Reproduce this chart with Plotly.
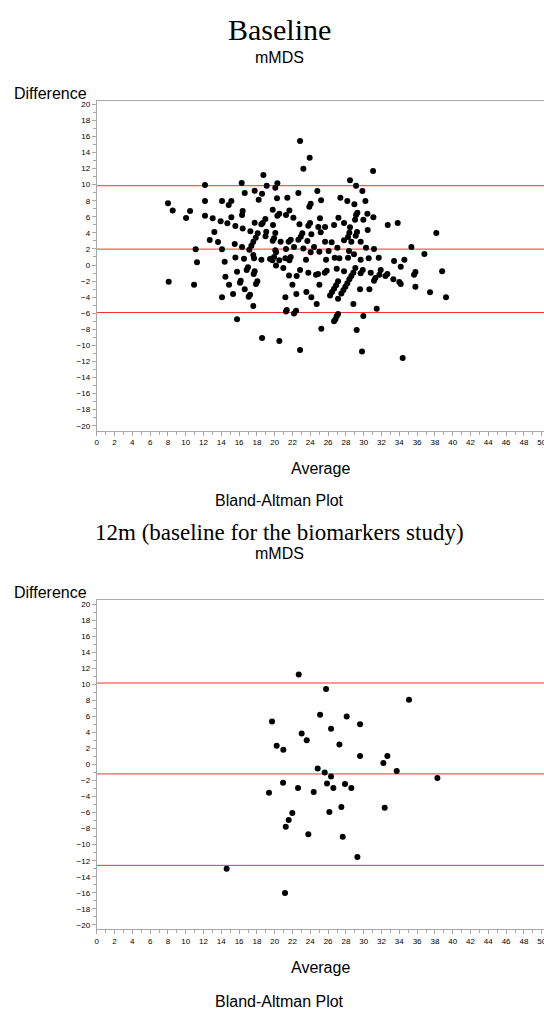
import plotly.graph_objects as go

W, H = 544, 1010

# ---------------- Data: Baseline (top panel) ----------------
base_avg = [
    8.01, 8.54, 10.04, 10.49, 11.12, 11.27, 12.17, 12.17, 12.17, 13.03, 12.70, 13.22, 13.63, 13.93,
    14.08, 14.08, 14.38, 14.68, 14.83, 15.13, 15.13, 15.58, 15.51, 15.58, 16.29, 16.63, 16.40, 16.33,
    16.40, 16.33, 16.55, 17.75, 18.20, 18.58, 18.73, 17.75, 17.27, 18.09, 17.15, 17.38, 17.60, 17.87,
    17.60, 17.68, 18.50, 18.50, 18.65, 18.95,
    # zoom 3 region
    22.85, 23.93, 23.22, 31.05, 19.10, 20.07, 20.30, 22.66, 24.79, 28.46, 29.14, 29.85, 20.26, 21.42,
    25.21, 24.04, 23.89, 27.38, 28.16, 28.95, 30.19, 19.78, 21.65, 20.52, 20.30, 21.27, 22.10, 25.09,
    27.16, 29.29, 29.14, 30.41, 31.09, 29.96, 29.03, 19.81, 22.78, 23.97, 23.78, 24.90, 25.66, 26.67,
    27.79, 28.46, 30.45, 32.70, 33.82, 38.16, 19.05, 18.97, 20.07, 19.93, 19.78, 20.67, 21.57, 21.80,
    22.66, 23.10, 22.93, 23.67, 24.12, 25.17, 25.66, 26.40, 27.79, 28.39, 28.24, 28.61, 29.25, 29.10,
    29.66, 20.07, 20.15, 21.27, 22.17, 23.22, 24.42, 25.02, 26.06, 27.04, 28.35, 28.91, 30.26, 31.16,
    35.36, 36.82, 19.48, 19.93, 19.74, 20.52, 21.20, 21.80, 21.65, 23.52, 24.04, 25.77, 26.74, 27.27,
    28.24, 29.66, 30.56, 31.69, 33.41, 34.57,
    # zoom 4 region
    8.09, 10.94, 14.46, 15.77, 16.85, 17.00, 14.87, 16.18, 16.10, 16.63, 15.32, 14.08, 15.77, 17.64,
    17.75, 18.05, 17.90, 17.08, 17.23, 17.60, 18.58,
    # zoom 5 region
    20.15, 20.97, 21.61, 21.99, 22.47, 22.43, 22.85, 21.20, 21.27, 21.35, 22.17, 22.40, 20.52, 22.85,
    23.56, 23.78, 24.12, 24.72, 24.64, 24.87, 25.02, 25.24, 25.62, 25.84,
    26.22, 26.44, 26.67, 26.90, 27.12,
    27.49, 27.72, 27.94, 28.16, 28.39, 28.61, 28.84, 29.06,
    27.12, 27.12, 26.97, 26.67, 26.82, 26.97, 27.79, 28.84, 29.21, 29.59, 29.81, 29.96, 29.66, 29.89,
    30.64, 30.79, 31.16, 31.31, 31.46, 31.76, 31.91, 32.44, 32.66, 33.33, 34.00, 34.16, 34.16, 34.38,
    35.66, 35.81, 35.81, 37.45, 38.81, 39.25,
]
base_diff = [
    7.68, 6.80, 5.85, 6.72, 1.95, 0.33, 9.96, 7.97, 6.14, 5.81, 3.11, 4.11, 2.86, 5.44,
    7.97, 1.95, 0.41, 5.19, 7.47, 7.97, 5.93, 4.85, 2.61, 0.95, 10.21, 8.96, 6.72, 6.22,
    4.56, 2.24, 0.79, 9.25, 8.13, 8.88, 11.20, 5.27, 4.19, 3.94, 1.91, 2.41, 2.90, 3.40,
    1.24, 0.83, 0.66, 5.06, 5.23, 5.73,
    # zoom 3 region
    15.44, 13.36, 11.99, 11.70, 9.88, 9.63, 10.17, 8.96, 9.21, 10.54, 9.88, 9.21, 8.30, 8.38,
    8.05, 7.63, 7.26, 8.38, 7.97, 7.55, 7.97, 6.89, 6.80, 6.39, 6.14, 6.22, 5.89, 5.81,
    5.89, 6.51, 6.22, 6.39, 5.93, 5.64, 5.64, 4.98, 5.06, 5.23, 4.90, 4.73, 4.73, 4.98,
    5.23, 4.69, 4.36, 4.98, 5.23, 3.98, 4.15, 3.57, 3.98, 3.32, 3.03, 2.90, 2.90, 3.15,
    3.15, 3.94, 3.53, 2.99, 3.82, 4.07, 2.90, 2.82, 3.07, 4.02, 3.49, 2.90, 4.11, 3.65,
    2.90, 1.83, 1.58, 1.99, 2.24, 2.07, 2.24, 1.66, 1.74, 2.16, 1.74, 1.33, 2.16, 1.99,
    2.24, 1.37, 0.75, 1.00, 0.58, 0.58, 0.83, 1.00, 0.58, 0.66, 1.58, 0.66, 0.91, 0.83,
    0.91, 0.66, 0.83, 0.91, 0.50, 0.66,
    # zoom 4 region
    -2.07, -2.45, -1.45, -0.83, -0.62, -0.29, -2.45, -1.95, -2.20, -3.03, -3.61, -4.02, -6.76, -1.12,
    -0.79, -2.03, -2.37, -3.94, -3.69, -5.10, -9.09,
    # zoom 5 region
    -0.05, -0.37, -1.29, -2.45, -1.37, -3.61, -0.62, -4.02, -5.77, -5.60, -6.02, -5.68, -9.46, -10.58,
    -3.36, -0.95, -4.02, -4.85, -1.20, -1.12, -2.45, -7.93, -0.95, -0.71,
    -3.78, -3.36, -2.95, -2.53, -2.03,
    -3.53, -3.11, -2.70, -2.28, -1.78, -1.37, -0.95, -0.37,
    -4.19, -6.10, -6.35, -7.00, -6.76, -0.46, -0.79, -4.85, -8.09, -3.03, -10.75, -6.35, -1.04, -0.62,
    -3.03, -0.95, -1.95, -1.62, -5.44, -1.20, -0.62, -1.37, -1.12, -1.78, -2.12, -2.37, -0.21, -11.58,
    -1.20, -0.87, -2.70, -3.40, -0.79, -4.02,
]
base_mean, base_upper, base_lower = 1.98, 9.87, -5.91

# ---------------- Data: 12m (bottom panel) ----------------
m12_avg = [
    22.70, 19.70, 20.22, 20.97, 23.03, 23.60, 25.10, 24.83,
    25.77, 35.09, 28.09, 29.59, 26.33, 27.27, 29.59, 32.66, 32.21, 33.71, 25.62, 26.33, 38.28,
    20.94, 19.36, 22.62, 24.38, 25.88, 26.59, 27.90, 28.61, 21.98, 21.57, 21.24, 23.78, 26.14,
    27.49, 27.64, 32.36, 29.29, 14.60, 21.16,
]
m12_diff = [
    11.21, 5.35, 2.32, 1.83, 3.86, 3.03, 6.20, -0.50,
    9.42, 8.05, 5.98, 5.02, 4.44, 2.49, 1.04, 1.04, 0.17, -0.83, -1.00, -1.49, -1.70,
    -2.28, -3.52, -2.94, -3.44, -2.36, -2.94, -2.44, -2.94, -6.06, -6.93, -7.76, -8.71, -5.93,
    -5.31, -9.00, -5.39, -11.54, -12.99, -16.02,
]
m12_mean, m12_upper, m12_lower = -1.18, 10.15, -12.58

x_ticks = list(range(0, 51, 2))
y_ticks = list(range(-20, 21, 2))

titles = ["Baseline", "12m (baseline for the biomarkers study)"]
subtitle = "mMDS"
footnote = "Bland-Altman Plot"

# ---------------- Layout helpers ----------------
def py(p):
    return 1 - p / H

def px(p):
    return p / W

fig = go.Figure()

fig.add_trace(go.Scatter(x=base_avg, y=base_diff, mode="markers", xaxis="x", yaxis="y",
                         marker=dict(color="black", size=6), showlegend=False))
fig.add_trace(go.Scatter(x=m12_avg, y=m12_diff, mode="markers", xaxis="x2", yaxis="y2",
                         marker=dict(color="black", size=6), showlegend=False))

axis_common = dict(
    showline=True, linecolor="#a8a8a8", linewidth=1, automargin=False,
    ticks="outside", ticklen=4, tickcolor="#a8a8a8", tickwidth=1,
    tickfont=dict(family="Arial, Liberation Sans", size=8, color="#000"),
    ticklabeloverflow="allow",
    showgrid=False, zeroline=False,
    minor=dict(ticks="outside", ticklen=3, dtick=1, tickcolor="#a8a8a8", showgrid=False),
)

x_dom = [px(96.7), 1.0]
x_rng = [0, (W - 96.7) / 8.9]

fig.update_layout(
    template="none",
    width=W, height=H,
    margin=dict(l=0, r=0, t=0, b=0, autoexpand=False),
    paper_bgcolor="white", plot_bgcolor="white",
    xaxis=dict(domain=x_dom, range=x_rng, tickvals=x_ticks, mirror=True, anchor="y", **axis_common),
    yaxis=dict(domain=[py(430.7), py(100.7)], range=[-20.62, 20.45], tickvals=y_ticks, anchor="x", **axis_common),
    xaxis2=dict(domain=x_dom, range=x_rng, tickvals=x_ticks, mirror=True, anchor="y2", **axis_common),
    yaxis2=dict(domain=[py(929.3), py(600)], range=[-20.55, 20.5], tickvals=y_ticks, anchor="x2", **axis_common),
)

shapes = []
for (xr, yr, vals) in [("x domain", "y", [base_upper, base_mean, base_lower]),
                       ("x2 domain", "y2", [m12_upper, m12_mean, m12_lower])]:
    for v in vals:
        shapes.append(dict(type="line", xref=xr, yref=yr, x0=0, x1=1, y0=v, y1=v,
                           line=dict(color="#ff3030", width=1), layer="below"))
fig.update_layout(shapes=shapes)

sans = "Arial, Liberation Sans, sans-serif"
serif = "Liberation Serif, DejaVu Serif, serif"
ann = []
def text(t, x, y, size, family, xanchor="center"):
    ann.append(dict(text=t, x=px(x), y=py(y), xref="paper", yref="paper", showarrow=False,
                    xanchor=xanchor, yanchor="middle", font=dict(family=family, size=size, color="black")))

text(titles[0], 279, 29, 30, serif)
text(subtitle, 279, 57, 16, sans)
text("Difference", 12, 94, 16, sans, "left")
text("Average", 320, 469, 16, sans)
text(footnote, 279, 500, 16, sans)

text(titles[1], 279, 532, 23, serif)
text(subtitle, 279, 553, 16, sans)
text("Difference", 12, 592, 16, sans, "left")
text("Average", 320, 967, 16, sans)
text(footnote, 279, 1001, 16, sans)

fig.update_layout(annotations=ann)

fig.write_html(
    "out.html",
    config={"displayModeBar": False},
    post_script="document.body.style.margin='0px';document.body.style.overflow='hidden';",
)
